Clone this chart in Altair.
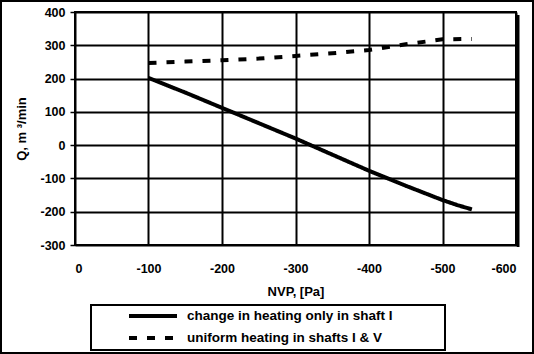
import altair as alt
import pandas as pd

# ---- data ----
series_names = ["change in heating only in shaft I", "uniform heating in shafts I & V"]
nvp_solid = [-100, -150, -200, -300, -400, -450, -500, -520, -540]
q_solid = [202, 158, 112, 20, -77, -122, -165, -180, -193]
nvp_dashed = [-100, -150, -200, -250, -300, -350, -400, -450, -500, -540]
q_dashed = [247, 251, 255, 260, 268, 276, 286, 303, 318, 319]
x_ticks = [0, -100, -200, -300, -400, -500, -600]
y_ticks = [400, 300, 200, 100, 0, -100, -200, -300]

FONT = "Liberation Sans"

df = pd.concat([
    pd.DataFrame({"nvp": nvp_solid, "q": q_solid, "series": series_names[0]}),
    pd.DataFrame({"nvp": nvp_dashed, "q": q_dashed, "series": series_names[1]}),
])

lines = alt.Chart(df).mark_line(color="black", strokeWidth=4, strokeCap="butt").encode(
    x=alt.X("nvp:Q",
            scale=alt.Scale(domain=[-600, 0], reverse=True, nice=False),
            axis=alt.Axis(values=x_ticks, title="NVP, [Pa]", grid=True, ticks=False,
                          domain=False, labelPadding=17, titlePadding=11,
                          labelExpr="'' + datum.value")),
    y=alt.Y("q:Q",
            scale=alt.Scale(domain=[-300, 400], nice=False),
            axis=alt.Axis(values=y_ticks, title="Q, m \u00b3/min", grid=True, tickSize=5,
                          domain=False, labelPadding=5, titlePadding=11,
                          labelExpr="'' + datum.value")),
    strokeDash=alt.StrokeDash("series:N",
                              scale=alt.Scale(domain=series_names, range=[[1, 0], [8, 10]]),
                              legend=None),
    detail="series:N",
)

one = pd.DataFrame({"k": [0]})

shadow = alt.Chart(one).mark_rule(color="black", strokeWidth=3).encode(
    x=alt.value(443), y=alt.value(3), y2=alt.value(235))

outer = alt.Chart(one).mark_rect(fill=None, stroke="black", strokeWidth=2).encode(
    x=alt.value(-74), x2=alt.value(458), y=alt.value(-11), y2=alt.value(341))

legend_box = alt.Chart(one).mark_rect(fill="white", stroke="black", strokeWidth=2).encode(
    x=alt.value(16), x2=alt.value(370), y=alt.value(293), y2=alt.value(338))

leg_solid = alt.Chart(one).mark_rule(color="black", strokeWidth=4).encode(
    x=alt.value(54), x2=alt.value(102), y=alt.value(304))
leg_dash = alt.Chart(one).mark_rule(color="black", strokeWidth=4, strokeDash=[8, 10]).encode(
    x=alt.value(54), x2=alt.value(102), y=alt.value(326))

leg_t1 = alt.Chart(one).mark_text(align="left", baseline="middle", font=FONT, fontSize=13.5,
                                  fontWeight="bold", color="black").encode(
    x=alt.value(112), y=alt.value(304), text=alt.value(series_names[0]))
leg_t2 = alt.Chart(one).mark_text(align="left", baseline="middle", font=FONT, fontSize=13.5,
                                  fontWeight="bold", color="black").encode(
    x=alt.value(112), y=alt.value(326), text=alt.value(series_names[1]))

chart = alt.layer(lines, shadow, outer, legend_box, leg_solid, leg_dash, leg_t1, leg_t2).properties(
    width=441, height=233,
    padding={"left": 75, "top": 12, "right": 18, "bottom": 109},
    autosize=alt.AutoSizeParams(type="none"),
    background="white",
).configure_view(
    stroke="black", strokeWidth=2
).configure_axis(
    gridColor="black", gridWidth=2, gridOpacity=1,
    tickColor="black", tickWidth=1.5,
    labelFont=FONT, labelFontSize=12.5, labelFontWeight="bold", labelColor="black",
    titleFont=FONT, titleFontSize=13, titleFontWeight="bold", titleColor="black",
)

chart.save("out.html", embed_options={"renderer": "svg", "actions": False})
